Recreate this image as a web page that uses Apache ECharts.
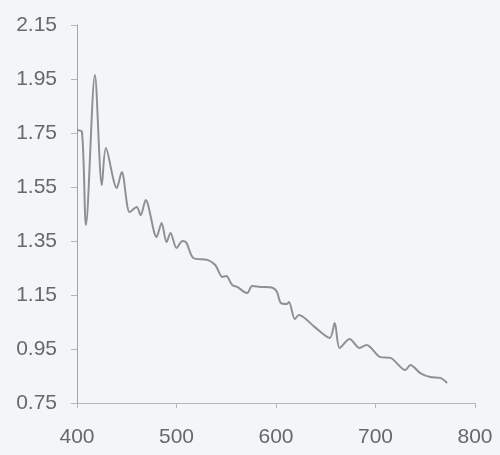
<!DOCTYPE html>
<html>
<head>
<meta charset="utf-8">
<script src="https://cdn.jsdelivr.net/npm/echarts@6/dist/echarts.min.js"></script>
<style>
  html, body { margin: 0; padding: 0; background: #f3f6f8; }
  #chart { width: 500px; height: 455px; }
</style>
</head>
<body>
<div id="chart"></div>
<script>
// Wavelength (nm) of each sampled point
const wavelengths = [400, 405, 409, 418, 425, 429, 440, 445, 453, 460, 464, 469,
  480, 485, 490, 494, 500, 506, 510, 517, 531, 539, 546, 550, 556, 561, 571, 576,
  584, 597, 601, 605, 611, 613, 619, 623, 639, 654, 659, 664, 674, 684, 691, 705,
  715, 730, 735, 745, 755, 765, 772];
// Measured value at each wavelength
const values = [1.76, 1.754, 1.409, 1.965, 1.557, 1.694, 1.546, 1.606, 1.457, 1.476, 1.446, 1.502,
  1.365, 1.417, 1.346, 1.380, 1.324, 1.350, 1.343, 1.287, 1.280, 1.261, 1.217, 1.220, 1.187, 1.180, 1.157, 1.183,
  1.180, 1.176, 1.161, 1.120, 1.117, 1.124, 1.061, 1.076, 1.031, 0.991, 1.046, 0.954, 0.987, 0.954, 0.965, 0.920,
  0.917, 0.872, 0.891, 0.861, 0.846, 0.843, 0.824];
// Tick labels on the value axis
const yTicks = [0.75, 0.95, 1.15, 1.35, 1.55, 1.75, 1.95, 2.15];
const xTicks = [400, 500, 600, 700, 800];

const chart = echarts.init(document.getElementById('chart'), null, { renderer: 'canvas' });
chart.setOption({
  backgroundColor: '#f3f6f8',
  animation: false,
  grid: { left: 77, right: 25, top: 25, bottom: 52 },
  xAxis: {
    type: 'value',
    min: xTicks[0], max: xTicks[xTicks.length - 1], interval: 100,
    axisLine: { show: true, lineStyle: { color: '#b4b8bc', width: 1 } },
    axisTick: { show: true, length: 5, lineStyle: { color: '#b4b8bc' } },
    axisLabel: { color: '#686868', fontSize: 21, fontFamily: 'Liberation Sans, Arial', margin: 24 },
    splitLine: { show: false }
  },
  yAxis: {
    type: 'value',
    min: yTicks[0], max: yTicks[yTicks.length - 1],
    axisLine: { show: true, lineStyle: { color: '#a0a4a8', width: 1 } },
    axisTick: { show: true, length: 6, customValues: yTicks, lineStyle: { color: '#b4b8bc' } },
    axisLabel: {
      color: '#686868', fontSize: 21, fontFamily: 'Liberation Sans, Arial', margin: 20,
      customValues: yTicks,
      formatter: v => v.toFixed(2)
    },
    splitLine: { show: false }
  },
  series: [{
    type: 'line',
    data: wavelengths.map((w, i) => [w, values[i]]),
    smooth: 0.3,
    showSymbol: false,
    lineStyle: { color: '#909090', width: 2 }
  }]
});
</script>
</body>
</html>
